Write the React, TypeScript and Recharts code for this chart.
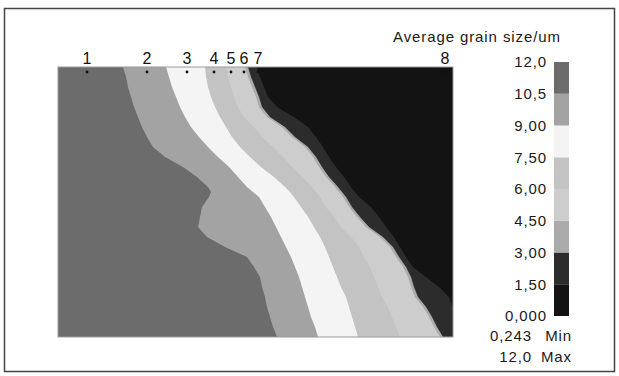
import React from 'react';
import { ComposedChart, Area, XAxis, YAxis, ReferenceDot, BarChart, Bar } from 'recharts';

// depth rows (px from top of the section) and contour edge positions (px from left edge)
const depth = [0, 10, 20, 30, 40, 50, 60, 70, 80, 90, 100, 110, 120, 125, 130, 140, 150, 160, 170, 180, 190, 200, 210, 220, 230, 240, 250, 260, 270];
const edge105 = [65, 68, 70, 73, 76, 80, 84, 89, 95, 107, 125, 139, 150, 153, 151, 144, 142, 140, 149, 167, 189, 196, 202, 204, 207, 209, 212, 215, 219];
const edge90 = [108, 111, 114, 118, 122, 127, 133, 141, 150, 160, 171, 180, 189, 195, 201, 207, 213, 218, 223, 228, 233, 237, 241, 244, 247, 250, 253, 257, 260];
const edge75 = [147, 148, 150, 153, 157, 162, 168, 174, 182, 192, 203, 216, 227, 232, 236, 243, 250, 256, 262, 267, 271, 275, 279, 283, 288, 291, 294, 297, 300];
const edge60 = [168, 170, 173, 176, 180, 186, 196, 204, 215, 225, 234, 244, 254, 258, 262, 268, 276, 283, 293, 301, 306, 312, 316, 320, 324, 330, 334, 338, 342];
const edge45 = [187, 190, 194, 198, 201, 209, 224, 234, 247, 255, 261, 268, 277, 281, 285, 291, 299, 308, 322, 332, 338, 345, 350, 353, 357, 365, 371, 376, 382];
const edge30 = [190, 193, 197, 201, 204, 212, 227, 237, 250, 258, 264, 271, 280, 284, 288, 294, 302, 311, 325, 335, 341, 348, 353, 356, 360, 368, 374, 379, 385];
const edge15 = [199, 202, 206, 210, 219, 236, 250, 258, 265, 271, 278, 286, 293, 297, 301, 313, 321, 328, 336, 342, 348, 355, 368, 381, 391, 395, 395, 395, 395];

const sectionWidth = 395;
const sectionDepth = 270;

const markerX = [29, 89, 129, 156, 173, 186, 200, 387];
const markerLabels = ['1', '2', '3', '4', '5', '6', '7', '8'];

const levelValues = [0, 1.5, 3, 4.5, 6, 7.5, 9, 10.5, 12];
const levelLabels = ['0,000', '1,50', '3,00', '4,50', '6,00', '7,50', '9,00', '10,5', '12,0'];
const bandColors = ['#131313', '#2c2c2c', '#ababab', '#cdcdcd', '#c3c3c3', '#f4f4f4', '#a3a3a3', '#6c6c6c'];
const minLabel = '0,243';
const maxLabel = '12,0';

const rows = depth.map((d, i) => ({
  depth: d,
  e15: edge15[i], e30: edge30[i], e45: edge45[i], e60: edge60[i],
  e75: edge75[i], e90: edge90[i], e105: edge105[i],
}));

// painted right-to-left: each area fills from the left edge to its contour
const contours = [
  { key: 'e15', color: bandColors[1] },
  { key: 'e30', color: bandColors[2] },
  { key: 'e45', color: bandColors[3] },
  { key: 'e60', color: bandColors[4] },
  { key: 'e75', color: bandColors[5] },
  { key: 'e90', color: bandColors[6] },
  { key: 'e105', color: bandColors[7] },
];

const scaleRow: Record<string, any> = { name: 'scale' };
bandColors.forEach((_, i) => { scaleRow[`s${i}`] = levelValues[i + 1] - levelValues[i]; });

const font = { fontSize: 15, fill: '#1a1a1a', letterSpacing: 0.9 };

export default function App() {
  return (
    <div style={{ position: 'absolute', left: 0, top: 0, width: 619, height: 376, background: '#fff', fontFamily: '"Liberation Sans", Arial, sans-serif' }}>
      <div style={{ position: 'absolute', left: 0, top: 0 }}>
        <ComposedChart width={619} height={376} data={rows} layout="vertical" margin={{ top: 47, right: 166, bottom: 39, left: 58 }}>
          <XAxis
            type="number"
            orientation="top"
            domain={[0, sectionWidth]}
            ticks={markerX}
            interval={0}
            height={20}
            axisLine={false}
            tickLine={false}
            tickSize={0}
            tickMargin={3}
            tickFormatter={(v: number) => markerLabels[markerX.indexOf(v)]}
            tick={{ fontSize: 16, fill: '#111' }}
          />
          <YAxis type="number" dataKey="depth" domain={[0, sectionDepth]} hide />
          <Area type="linear" dataKey={() => sectionWidth} stroke="none" fill={bandColors[0]} fillOpacity={1} isAnimationActive={false} dot={false} activeDot={false} />
          {contours.map((c) => (
            <Area key={c.key} type="linear" dataKey={c.key} stroke="none" fill={c.color} fillOpacity={1} isAnimationActive={false} dot={false} activeDot={false} />
          ))}
          {markerX.map((x) => (
            <ReferenceDot key={x} x={x} y={5} r={1.4} fill="#111" stroke="none" />
          ))}
        </ComposedChart>
      </div>

      <div style={{ position: 'absolute', left: 480, top: 40 }}>
        <BarChart width={94} height={295} data={[scaleRow]} margin={{ top: 22, right: 5, bottom: 19, left: 0 }} barCategoryGap={0} barGap={0}>
          <XAxis dataKey="name" hide />
          <YAxis
            type="number"
            domain={[0, 12]}
            ticks={levelValues}
            interval={0}
            width={74}
            axisLine={false}
            tickLine={false}
            tickMargin={1}
            tickFormatter={(v: number) => levelLabels[levelValues.indexOf(v)]}
            tick={font}
          />
          {bandColors.map((c, i) => (
            <Bar key={i} dataKey={`s${i}`} stackId="scale" fill={c} isAnimationActive={false} />
          ))}
        </BarChart>
      </div>

      <svg width={619} height={376} style={{ position: 'absolute', left: 0, top: 0, pointerEvents: 'none' }}>
        <rect x={4.5} y={8.5} width={610} height={363} fill="none" stroke="#444" strokeWidth={1.5} />
        <rect x={58} y={67} width={sectionWidth} height={sectionDepth} fill="none" stroke="#999" strokeWidth={1} />
        <text x={393} y={42} {...font}>Average grain size/um</text>
        <text x={532} y={341} textAnchor="end" {...font}>{minLabel}</text>
        <text x={572} y={341} textAnchor="end" {...font}>Min</text>
        <text x={532} y={362} textAnchor="end" {...font}>{maxLabel}</text>
        <text x={572} y={362} textAnchor="end" {...font}>Max</text>
      </svg>
    </div>
  );
}
